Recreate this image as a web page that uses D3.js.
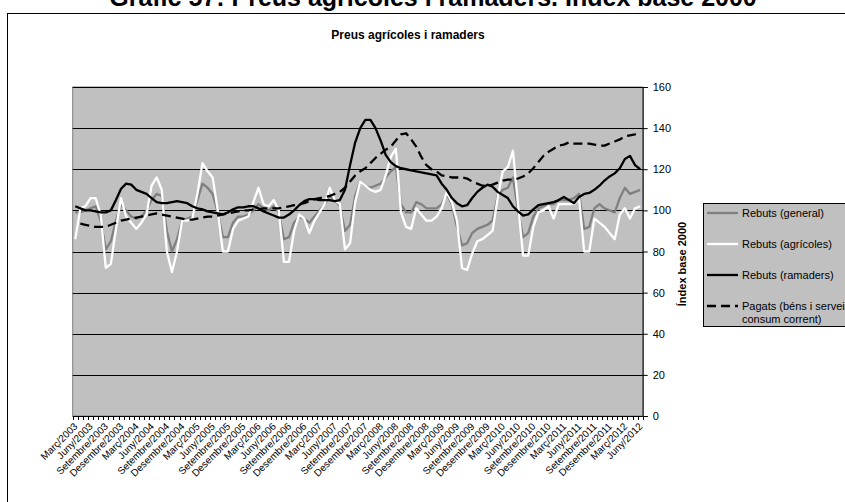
<!DOCTYPE html>
<html><head><meta charset="utf-8">
<script src="https://cdn.jsdelivr.net/npm/d3@7"></script>
<style>body{margin:0;background:#fff;overflow:hidden} text{font-family:"Liberation Sans",Arial,sans-serif;}</style>
</head><body><svg id="c" width="845" height="502"></svg>
<script>
const monthNames = ['Gener','Febrer','Març','Abril','Maig','Juny','Juliol','Agost','Setembre','Octubre','Novembre','Desembre'];
const startYear = 2003, startMonth = 2, nMonths = 112;
const categories = [];
for (let k = 0; k < nMonths; k++) { const m = (startMonth + k) % 12, yr = startYear + Math.floor((startMonth + k) / 12); categories.push(monthNames[m] + '/' + yr); }

const general = [
  99, 99, 100, 101, 102, 95, 81, 85, 95, 103,
  100, 97, 96, 97, 100, 105, 108, 107, 90, 80, 86, 95,
  96, 97, 105, 113, 111, 108, 99, 87, 87, 94, 97, 97,
  98, 100, 103, 101, 100, 102, 99, 86, 87, 94, 97, 96,
  94, 97, 100, 103, 107, 105, 102, 90, 93, 107, 114, 112,
  111, 112, 113, 116, 119, 121, 103, 99, 99, 104, 103, 101,
  101, 101, 103, 108, 103, 92, 83, 84, 89, 91, 92, 93,
  95, 107, 110, 111, 116, 100, 87, 89, 97, 101, 102, 103,
  103, 105, 105, 105, 106, 108, 91, 92, 101, 103, 101, 100,
  99, 106, 111, 108, 109, 110
];
const agricoles = [
  86, 101, 102, 106, 106, 98, 72, 74, 91, 106,
  97, 94, 91, 94, 98, 112, 116, 110, 80, 70, 80, 95,
  95, 96, 108, 123, 119, 116, 100, 80, 80, 91, 95, 96,
  97, 104, 111, 103, 102, 105, 100, 75, 75, 90, 98, 96,
  89, 95, 99, 103, 111, 105, 103, 81, 84, 104, 114, 112,
  110, 109, 110, 117, 126, 130, 99, 92, 91, 101, 98, 95,
  95, 97, 101, 109, 104, 95, 72, 71, 79, 85, 86, 88,
  90, 106, 119, 121, 129, 103, 78, 78, 92, 99, 100, 102,
  96, 103, 103, 103, 103, 106, 80, 80, 96, 94, 92, 89,
  86, 98, 101, 96, 101, 102
];
const ramaders = [
  102, 101, 100, 100, 99.5, 99, 99, 100, 105, 110.5,
  113, 112.5, 110, 109, 108, 106, 104, 103.5, 103.5, 104, 104.5, 104,
  103.5, 102, 101, 100.5, 99.5, 99, 98.5, 98, 99, 100.5, 101.5, 101.5,
  102, 102, 101, 99.5, 98.5, 97.5, 96.5, 96.5, 98, 100, 102.5, 104.5,
  105.5, 105.5, 105, 105, 105, 104.5, 105, 110, 122, 133, 140, 144,
  144, 140, 134, 127, 123.5, 121.5, 120.5, 120, 119.5, 119, 118.5, 118,
  117.5, 117, 113, 110, 106, 103.5, 102, 102.5, 106, 109, 111, 112.5,
  111.5, 109, 107.5, 106, 102, 99.5, 97.5, 98, 100.5, 102.5, 103, 103.5,
  104, 105, 106.5, 105, 103.5, 106.5, 108, 108.5, 110, 112, 114.5, 116.5,
  118, 120.5, 125, 126.5, 122, 120
];
const pagats = [
  null, 93.5, 93, 92.5, 92, 92, 92, 93, 94, 95,
  95.5, 96, 96.5, 97, 97.5, 98, 98.5, 98, 97.5, 97, 96.5, 96,
  95.5, 95.5, 96, 96.5, 97, 97, 97.5, 98, 98.5, 99, 99.5, 100,
  100, 100.5, 100.5, 101, 101, 101, 101, 101.5, 102, 102.5, 103, 103.5,
  104.5, 105.5, 106, 106.5, 107, 108, 109, 111, 114, 117, 119, 120.5,
  123, 125.5, 127.5, 129.5, 131, 134, 137, 137.5, 134.5, 131, 126, 122,
  120, 119, 117, 116.5, 116, 116, 116, 115.5, 114, 113, 112, 112,
  112.5, 113.5, 114.5, 115, 115, 115.5, 116.5, 118, 120.5, 123.5, 126.5, 128.5,
  130, 131.5, 132, 133, 132.5, 132.5, 132.5, 132.5, 132, 131.5, 131.5, 132.5,
  133.5, 134.5, 136, 136.5, 137, 138
];
const yTicks = [0, 20, 40, 60, 80, 100, 120, 140, 160];
const seriesNames = ['Rebuts (general)', 'Rebuts (agrícoles)', 'Rebuts (ramaders)', ['Pagats (béns i serveis de', 'consum corrent)']];
const pageTitle = 'Gràfic 57: Preus agrícoles i ramaders. Índex base 2000';
const chartTitle = 'Preus agrícoles i ramaders';
const yTitle = 'Índex base 2000';

const svg = d3.select('#c');
const L = 72.7, R = 642.7, T = 87, B = 416;
const x = d3.scaleBand().domain(categories).range([L, R]);
const xc = c => x(c) + x.bandwidth() / 2;
const y = d3.scaleLinear().domain([0, 160]).range([B, T]);

svg.append('rect').attr('width', 845).attr('height', 502).attr('fill', '#fff');
svg.append('text').attr('x', 433).attr('y', 6).attr('text-anchor', 'middle')
  .attr('font-size', 25).attr('font-weight', 'bold').text(pageTitle);
svg.append('rect').attr('x', 7.5).attr('y', 13.5).attr('width', 900).attr('height', 600)
  .attr('fill', '#fff').attr('stroke', '#000');
svg.append('text').attr('x', 408).attr('y', 39).attr('text-anchor', 'middle')
  .attr('font-size', 12).attr('font-weight', 'bold').text(chartTitle);

// plot area
svg.append('rect').attr('x', L).attr('y', T).attr('width', R - L).attr('height', B - T)
  .attr('fill', '#c0c0c0').attr('stroke', '#808080');
svg.append('g').selectAll('line').data(yTicks.filter(v => v > 0)).join('line')
  .attr('x1', L).attr('x2', R).attr('y1', v => Math.round(y(v)) + 0.5).attr('y2', v => Math.round(y(v)) + 0.5)
  .attr('stroke', '#000').attr('stroke-width', 1);

// right axis
const ya = svg.append('g').attr('transform', `translate(${R},0)`)
  .call(d3.axisRight(y).tickValues(yTicks).tickSize(5).tickPadding(5).tickFormat(d3.format('d')));
ya.select('.domain').attr('stroke', '#000');
ya.selectAll('text').attr('font-size', 11).attr('font-family', '"Liberation Sans",Arial,sans-serif');
svg.append('text').attr('transform', `translate(686,264) rotate(-90)`).attr('text-anchor', 'middle')
  .attr('font-size', 11).attr('font-weight', 'bold').text(yTitle);

// bottom axis: ticks between categories
const bounds = categories.map(c => x(c)).concat([x(categories[categories.length - 1]) + x.bandwidth()]);
svg.append('g').selectAll('line').data(bounds).join('line')
  .attr('x1', d => Math.round(d) + 0.5).attr('x2', d => Math.round(d) + 0.5).attr('y1', B).attr('y2', B + 4)
  .attr('stroke', '#000');
svg.append('line').attr('x1', L).attr('x2', R).attr('y1', B + 0.5).attr('y2', B + 0.5).attr('stroke', '#000');
svg.append('g').selectAll('text').data(categories.filter((c, i) => i % 3 === 0)).join('text')
  .attr('transform', c => `translate(${xc(c) + 3},${B + 11}) rotate(-45)`)
  .attr('text-anchor', 'end').attr('font-size', 10).text(c => c);

// series
const line = d3.line().defined(d => d != null).x((d, i) => xc(categories[i])).y(d => y(d));
const styles = [
  { data: general, color: '#808080', dash: null },
  { data: agricoles, color: '#ffffff', dash: null },
  { data: ramaders, color: '#000000', dash: null },
  { data: pagats, color: '#000000', dash: '9,5' }
];
const plot = svg.append('g');
styles.forEach(s => {
  plot.append('path').attr('d', line(s.data)).attr('fill', 'none').attr('stroke', s.color)
    .attr('stroke-width', 2.3).attr('stroke-linejoin', 'round').attr('stroke-dasharray', s.dash);
});

// legend
svg.append('rect').attr('x', 703.5).attr('y', 203.5).attr('width', 200).attr('height', 123)
  .attr('fill', '#c0c0c0').attr('stroke', '#000');
const rowsY = [213, 244, 275, 306];
styles.forEach((s, k) => {
  svg.append('line').attr('x1', 707).attr('x2', 738).attr('y1', rowsY[k]).attr('y2', rowsY[k])
    .attr('stroke', s.color).attr('stroke-width', 2.3).attr('stroke-dasharray', s.dash);
  const name = seriesNames[k];
  const lines = Array.isArray(name) ? name : [name];
  lines.forEach((t, j) => {
    svg.append('text').attr('x', 742).attr('y', rowsY[k] + 4 + j * 13).attr('font-size', 11).text(t);
  });
});
</script></body></html>
